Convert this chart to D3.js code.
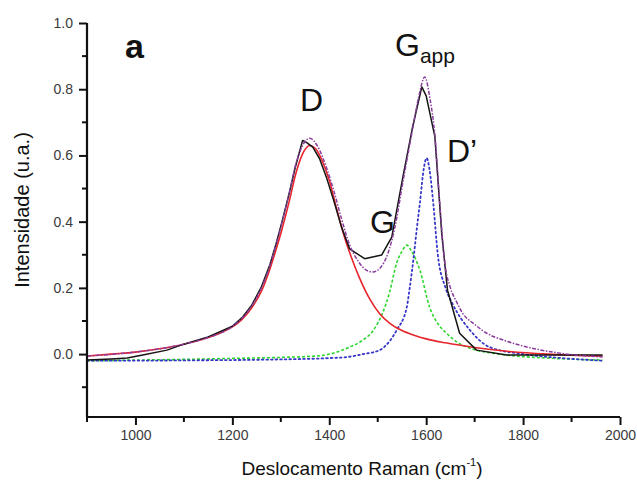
<!DOCTYPE html>
<html><head><meta charset="utf-8">
<script src="https://cdn.jsdelivr.net/npm/d3@7"></script>
<style>
html,body{margin:0;padding:0;background:#fff;}
text{font-family:"Liberation Sans",Arial,sans-serif;}
</style></head>
<body>
<svg id="chart" width="637" height="481"></svg>
<script>
// ---- data ----
const expX = [900,950,983,1015,1065,1100,1150,1200,1220,1240,1260,1277,1290,1302,1318,1330,1345,1352,1366,1380,1395,1410,1425,1442,1473,1508,1529,1552,1572,1591,1600,1618,1632,1644,1669,1704,1766,1964];
const expY = [-0.018,-0.015,-0.012,-0.003,0.012,0.03,0.052,0.084,0.11,0.148,0.203,0.268,0.332,0.397,0.49,0.565,0.645,0.64,0.625,0.59,0.53,0.46,0.385,0.318,0.288,0.299,0.353,0.535,0.686,0.807,0.78,0.656,0.366,0.193,0.063,0.012,-0.003,-0.003];

const fitX = [900,1000,1050,1100,1150,1200,1220,1240,1260,1277,1290,1302,1318,1330,1345,1360,1375,1395,1410,1425,1442,1460,1475,1490,1505,1520,1535,1552,1572,1585,1597,1608,1618,1628,1638,1650,1662,1675,1700,1725,1760,1793,1861,1964];
const fitY = [-0.006,0.006,0.016,0.03,0.05,0.083,0.108,0.145,0.2,0.265,0.33,0.395,0.49,0.568,0.63,0.652,0.63,0.56,0.49,0.41,0.33,0.28,0.255,0.248,0.26,0.3,0.38,0.52,0.68,0.78,0.837,0.77,0.66,0.456,0.28,0.2,0.16,0.124,0.09,0.063,0.042,0.027,0.006,-0.009];

const dX = [900,950,1000,1050,1100,1150,1175,1200,1220,1240,1260,1277,1290,1302,1318,1330,1345,1360,1372,1385,1400,1415,1430,1445,1463,1484,1504,1525,1550,1575,1600,1640,1700,1772,1850,1964];
const dY = [-0.006,0.0,0.006,0.016,0.03,0.05,0.064,0.082,0.105,0.14,0.19,0.255,0.315,0.375,0.465,0.54,0.605,0.63,0.62,0.585,0.525,0.44,0.36,0.295,0.228,0.165,0.122,0.093,0.071,0.057,0.046,0.034,0.02,0.008,0.0,-0.006];

const gX = [900,1000,1100,1200,1300,1380,1401,1440,1469,1490,1510,1525,1539,1550,1560,1570,1587,1607,1625,1642,1665,1690,1750,1850,1964];
const gY = [-0.02,-0.018,-0.016,-0.013,-0.01,-0.005,0.0,0.02,0.042,0.07,0.124,0.19,0.275,0.31,0.329,0.31,0.254,0.142,0.09,0.063,0.035,0.018,0.0,-0.012,-0.018];

const dpX = [900,1100,1300,1401,1436,1470,1504,1525,1539,1560,1566,1574,1580,1587,1595,1601,1607,1615,1624,1640,1655,1690,1731,1800,1880,1964];
const dpY = [-0.02,-0.019,-0.016,-0.012,-0.009,0.0,0.012,0.04,0.072,0.142,0.2,0.29,0.37,0.456,0.56,0.592,0.556,0.45,0.3,0.2,0.15,0.073,0.021,0.0,-0.012,-0.02];

const xMajor = [1000,1200,1400,1600,1800,2000];
const xMinor = [900,1100,1300,1500,1700,1900];
const yMajor = [0.0,0.2,0.4,0.6,0.8,1.0];
const yMinor = [-0.1,0.1,0.3,0.5,0.7,0.9];

// ---- drawing ----
const svg = d3.select("#chart");
const x = d3.scaleLinear().domain([900,2000]).range([87,620]);
const y = d3.scaleLinear().domain([-0.19,1.0]).range([417,23]);

function pts(xs, ys){ return xs.map((v,i)=>[v,ys[i]]); }
const smooth = d3.line().x(d=>x(d[0])).y(d=>y(d[1])).curve(d3.curveMonotoneX);
const straight = d3.line().x(d=>x(d[0])).y(d=>y(d[1]));

const series = [
  {d:pts(gX,gY), color:"#2fd62f", w:1.6, dash:"3,2", gen:smooth},
  {d:pts(dpX,dpY), color:"#3535c8", w:1.8, dash:"1.6,3", gen:smooth, cap:"round"},
  {d:pts(dX,dY), color:"#e8242c", w:1.6, dash:null, gen:smooth},
  {d:pts(expX,expY), color:"#151515", w:1.5, dash:null, gen:straight},
  {d:pts(fitX,fitY), color:"#8a3c9c", w:1.5, dash:"4,1.5,1.5,1.5", gen:smooth}
];
series.forEach(s=>{
  svg.append("path").attr("d", s.gen(s.d)).attr("fill","none")
    .attr("stroke", s.color).attr("stroke-width", s.w)
    .attr("stroke-dasharray", s.dash).attr("stroke-linecap", s.cap||"butt")
    .attr("stroke-linejoin","round");
});

// axes
const xAxis = svg.append("g").attr("transform","translate(0,417)");
xAxis.call(d3.axisBottom(x).tickValues(xMajor).tickSize(8).tickPadding(5).tickFormat(d3.format("d")));
xAxis.append("g").selectAll("line").data(xMinor).join("line")
  .attr("x1",d=>x(d)).attr("x2",d=>x(d)).attr("y1",0).attr("y2",5).attr("stroke","#111").attr("stroke-width",2);
const yAxis = svg.append("g").attr("transform","translate(87,0)");
yAxis.call(d3.axisLeft(y).tickValues(yMajor).tickSize(8).tickPadding(6).tickFormat(d3.format(".1f")));
yAxis.append("g").selectAll("line").data(yMinor).join("line")
  .attr("y1",d=>y(d)).attr("y2",d=>y(d)).attr("x1",0).attr("x2",-5).attr("stroke","#111").attr("stroke-width",2);

[xAxis,yAxis].forEach(g=>{
  g.select(".domain").attr("stroke","#111").attr("stroke-width",2.2);
  g.selectAll(".tick line").attr("stroke","#111").attr("stroke-width",2);
  g.selectAll(".tick text").attr("font-size",14).attr("fill","#3a3a3a")
   .attr("font-family","'Liberation Sans',Arial,sans-serif");
});
xAxis.select(".domain").attr("d","M87,0H620");
yAxis.select(".domain").attr("d","M0,23V417");

// axis titles
svg.append("text").attr("transform","translate(29,210) rotate(-90)")
  .attr("text-anchor","middle").attr("font-size",20).attr("fill","#111")
  .text("Intensidade (u.a.)");
const xt = svg.append("text").attr("x",362).attr("y",475).attr("text-anchor","middle")
  .attr("font-size",19).attr("fill","#111");
xt.append("tspan").text("Deslocamento Raman (cm");
xt.append("tspan").attr("font-size",11).attr("dy",-9).text("-1");
xt.append("tspan").attr("dy",9).text(")");

// annotations
svg.append("text").attr("x",125).attr("y",58).attr("font-size",34).attr("font-weight","bold").attr("fill","#111").text("a");
svg.append("text").attr("x",300).attr("y",111).attr("font-size",32).attr("fill","#111").text("D");
const ga = svg.append("text").attr("x",395).attr("y",56).attr("font-size",32).attr("fill","#111");
ga.append("tspan").text("G");
ga.append("tspan").attr("font-size",21).attr("dy",7).text("app");
svg.append("text").attr("x",370).attr("y",233).attr("font-size",32).attr("fill","#111").text("G");
svg.append("text").attr("x",447).attr("y",162).attr("font-size",32).attr("fill","#111").text("D\u2019");
</script>
</body></html>
